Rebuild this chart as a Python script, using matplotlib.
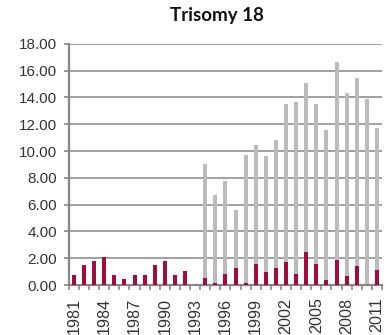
import matplotlib.pyplot as plt
import numpy as np

years = list(range(1981, 2012))
# dark red series (front) and grey series (behind), per year
red_vals = [0.75, 1.5, 1.8, 2.12, 0.75, 0.42, 0.75, 0.75, 1.5, 1.8, 0.75, 1.05,
            0, 0.5, 0.15, 0.85, 1.25, 0.15, 1.6, 0.95, 1.25, 1.75, 0.85, 2.5,
            1.6, 0.4, 1.9, 0.65, 1.4, 0, 1.15]
grey_vals = [0, 0, 0, 0, 0, 0, 0, 0, 0, 0, 0, 0,
             0, 9.0, 6.7, 7.75, 5.6, 9.7, 10.45, 9.6, 10.8, 13.5, 13.7, 15.1,
             13.5, 11.55, 16.65, 14.3, 15.45, 13.9, 11.7]
yticks = np.arange(0, 20, 2)

plt.rcParams['font.family'] = ['Liberation Sans', 'DejaVu Sans']

fig = plt.figure(figsize=(3.87, 3.35), dpi=100)
ax = fig.add_axes([0.178, 0.149, 0.809, 0.72])

x = np.arange(len(years))
ax.bar(x, grey_vals, width=0.4, color='#BBBBBB', zorder=2)
ax.bar(x, red_vals, width=0.4, color='#A20E3C', zorder=3)

ax.set_xlim(-0.5, len(years) - 0.5)
ax.set_ylim(0, 18)
ax.set_yticks(yticks)
ax.set_yticklabels([f'{v:.2f}' for v in yticks])
ax.yaxis.grid(True, color='#999999', linewidth=1.3, zorder=0)
ax.set_axisbelow(True)

# category ticks between bars, labels every third year
ax.set_xticks(x[::3])
ax.set_xticklabels([str(y) for y in years[::3]], rotation=90)
ax.set_xticks(np.arange(-0.5, len(years)), minor=True)
ax.tick_params(axis='x', which='major', length=0, pad=9, labelsize=11.6, labelcolor='#333333')
ax.tick_params(axis='x', which='minor', length=3.5, width=1.2, color='#888888')
ax.tick_params(axis='y', length=3.5, width=1.2, color='#888888', pad=5,
               labelsize=11, labelcolor='#333333')

for side in ['top', 'right']:
    ax.spines[side].set_visible(False)
for side in ['left', 'bottom']:
    ax.spines[side].set_color('#888888')
    ax.spines[side].set_linewidth(1.6)

fig.text(0.56, 0.955, 'Trisomy 18', ha='center', va='center',
         fontsize=13.5, fontweight='bold', family=['Lato', 'DejaVu Sans'], color='#111111')

fig.savefig('out.png', dpi=100)
